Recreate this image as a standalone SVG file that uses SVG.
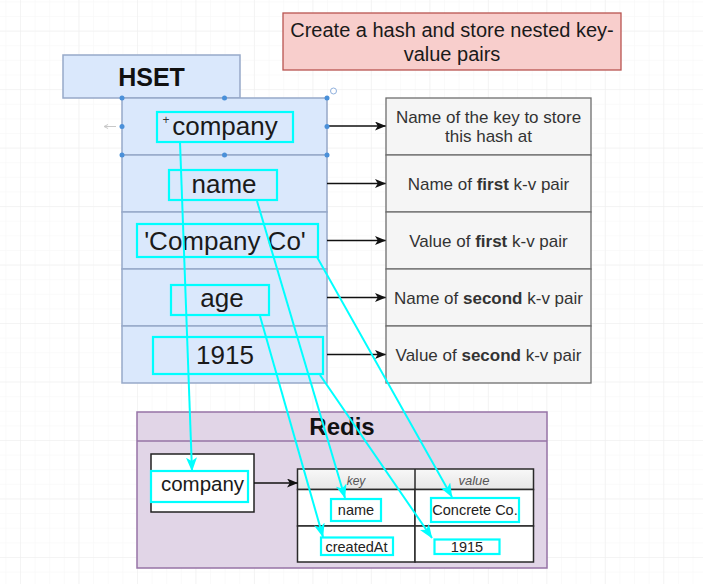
<svg xmlns="http://www.w3.org/2000/svg" width="703" height="584" viewBox="0 0 703 584">
<defs>
<style>
text{font-family:"Liberation Sans",Arial,Helvetica,sans-serif;}
.hrow{fill:#dae8fc;stroke:#97a9c9;stroke-width:1.5;}
.rowtxt{font-size:26px;fill:#1a1a1a;text-anchor:middle;}
.desc{fill:#f5f5f5;stroke:#6e6e6e;stroke-width:1.3;}
.desctxt{font-size:17px;fill:#333;text-anchor:middle;}
.hl{fill:none;stroke:#00ffff;stroke-width:2.2;}
.blk{stroke:#111;stroke-width:1.3;fill:none;marker-end:url(#ab);}
.cy{stroke:#00ffff;stroke-width:2;fill:none;marker-end:url(#ac);}
.cell{fill:#fff;stroke:#2a2a2a;stroke-width:1.5;}
.celltxt{font-size:14.5px;fill:#222;text-anchor:middle;}
.hdl{fill:#4a90d9;}
</style>
<marker id="ab" viewBox="0 0 11 9" refX="10.5" refY="4.5" markerWidth="11" markerHeight="9" markerUnits="userSpaceOnUse" orient="auto">
<path d="M0,0 L11,4.5 L0,9 L2.8,4.5 z" fill="#111"/>
</marker>
<marker id="ac" viewBox="0 0 14 11" refX="13.5" refY="5.5" markerWidth="14" markerHeight="11" markerUnits="userSpaceOnUse" orient="auto">
<path d="M0,0 L14,5.5 L0,11 L3.5,5.5 z" fill="#00ffff"/>
</marker>
<pattern id="gminor" x="20" y="440" width="14.62" height="14.62" patternUnits="userSpaceOnUse">
<path d="M0,0 H14.62 M0,0 V14.62" stroke="#f6f6f6" stroke-width="1" fill="none"/>
</pattern>
<pattern id="gmajor" x="20" y="440" width="58.48" height="58.48" patternUnits="userSpaceOnUse">
<path d="M0,0 H58.48 M0,0 V58.48" stroke="#eeeeee" stroke-width="1" fill="none"/>
</pattern>
<linearGradient id="hdrg" x1="0" y1="0" x2="0" y2="1">
<stop offset="0" stop-color="#f8f8f8"/>
<stop offset="1" stop-color="#e6e6e6"/>
</linearGradient>
</defs>
<rect width="703" height="584" fill="#ffffff"/>
<rect width="703" height="584" fill="url(#gminor)"/>
<rect width="703" height="584" fill="url(#gmajor)"/>

<g id="title">
<rect x="283" y="13" width="338" height="57" fill="#f8cecc" stroke="#b85450" stroke-width="1.3"/>
<text x="452" y="37" font-size="20" fill="#1a1a1a" text-anchor="middle">Create a hash and store nested key-</text>
<text x="452" y="61" font-size="20" fill="#1a1a1a" text-anchor="middle">value pairs</text>
</g>

<g id="hset-header">
<rect x="63" y="55" width="177" height="43" class="hrow"/>
<text x="151.5" y="86" font-size="25" font-weight="bold" fill="#111" text-anchor="middle">HSET</text>
</g>

<g id="hset-company">
<rect x="122" y="98" width="205" height="57" class="hrow"/>
<text x="225" y="135" class="rowtxt">company</text>
<text x="166" y="124" font-size="12" fill="#333" text-anchor="middle">+</text>
<rect x="157" y="112" width="136" height="30" class="hl"/>
</g>
<g id="hset-name">
<rect x="122" y="155" width="205" height="57" class="hrow"/>
<text x="224" y="193" class="rowtxt">name</text>
<rect x="169" y="170" width="108" height="30" class="hl"/>
</g>
<g id="hset-companyco">
<rect x="122" y="212" width="205" height="57" class="hrow"/>
<text x="225" y="250" class="rowtxt">'Company Co'</text>
<rect x="137" y="224" width="181" height="33" class="hl"/>
</g>
<g id="hset-age">
<rect x="122" y="269" width="205" height="57" class="hrow"/>
<text x="222" y="307" class="rowtxt">age</text>
<rect x="171" y="285" width="98" height="30" class="hl"/>
</g>
<g id="hset-1915">
<rect x="122" y="326" width="205" height="57" class="hrow"/>
<text x="225" y="364" class="rowtxt">1915</text>
<rect x="153" y="337" width="170" height="37" class="hl"/>
</g>

<g id="desc-key">
<rect x="386" y="98" width="205" height="57" class="desc"/>
<text x="488.5" y="123" class="desctxt">Name of the key to store</text>
<text x="488.5" y="142" class="desctxt">this hash at</text>
</g>
<g id="desc-name1">
<rect x="386" y="155" width="205" height="57" class="desc"/>
<text x="488.5" y="190" class="desctxt">Name of <tspan font-weight="bold">first</tspan> k-v pair</text>
</g>
<g id="desc-value1">
<rect x="386" y="212" width="205" height="57" class="desc"/>
<text x="488.5" y="247" class="desctxt">Value of <tspan font-weight="bold">first</tspan> k-v pair</text>
</g>
<g id="desc-name2">
<rect x="386" y="269" width="205" height="57" class="desc"/>
<text x="488.5" y="304" class="desctxt">Name of <tspan font-weight="bold">second</tspan> k-v pair</text>
</g>
<g id="desc-value2">
<rect x="386" y="326" width="205" height="57" class="desc"/>
<text x="488.5" y="361" class="desctxt">Value of <tspan font-weight="bold">second</tspan> k-v pair</text>
</g>

<g id="redis">
<rect x="137" y="412" width="410" height="156" fill="#e1d5e7" stroke="#9673a6" stroke-width="1.5"/>
<line x1="137" y1="441" x2="547" y2="441" stroke="#9673a6" stroke-width="1.5"/>
<text x="342" y="435" font-size="24" font-weight="bold" fill="#111" text-anchor="middle">Redis</text>
</g>

<g id="redis-company">
<rect x="151" y="454" width="103" height="58" fill="#fff" stroke="#222" stroke-width="1.5"/>
<text x="202.5" y="491" font-size="20.5" fill="#1a1a1a" text-anchor="middle">company</text>
<rect x="151" y="471" width="97" height="31" class="hl"/>
</g>

<g id="kv-table">
<rect x="297.5" y="469" width="236" height="20.5" fill="url(#hdrg)" stroke="#2a2a2a" stroke-width="1.5"/>
<rect x="297.5" y="489.5" width="117.5" height="36.5" class="cell"/>
<rect x="415" y="489.5" width="118.5" height="36.5" class="cell"/>
<rect x="297.5" y="526" width="117.5" height="36" class="cell"/>
<rect x="415" y="526" width="118.5" height="36" class="cell"/>
<line x1="415" y1="469" x2="415" y2="489.5" stroke="#2a2a2a" stroke-width="1.5"/>
<text x="356" y="485" font-size="12" font-style="italic" fill="#555" text-anchor="middle">key</text>
<text x="474" y="485" font-size="13" font-style="italic" fill="#555" text-anchor="middle">value</text>
<text x="356" y="515" class="celltxt">name</text>
<text x="475" y="515" class="celltxt">Concrete Co.</text>
<text x="356.5" y="552" class="celltxt">createdAt</text>
<text x="467" y="552" class="celltxt">1915</text>
<rect x="331" y="499" width="50" height="22" class="hl"/>
<rect x="431" y="498" width="88" height="24" class="hl"/>
<rect x="321" y="537.5" width="72" height="17.5" class="hl"/>
<rect x="434.5" y="539.5" width="65" height="14.5" class="hl"/>
</g>

<g id="connectors">
<line x1="327" y1="126" x2="385.5" y2="126" class="blk"/>
<line x1="327" y1="183.5" x2="385.5" y2="183.5" class="blk"/>
<line x1="327" y1="240.5" x2="385.5" y2="240.5" class="blk"/>
<line x1="327" y1="297.5" x2="385.5" y2="297.5" class="blk"/>
<line x1="327" y1="354.5" x2="385.5" y2="354.5" class="blk"/>
<line x1="254" y1="483" x2="297.5" y2="483" class="blk"/>
<line x1="180" y1="142" x2="192" y2="471" class="cy"/>
<line x1="257" y1="201" x2="345" y2="498" class="cy"/>
<line x1="317" y1="257" x2="452" y2="497" class="cy"/>
<line x1="260" y1="316" x2="323" y2="537" class="cy"/>
<line x1="320" y1="375" x2="432" y2="538" class="cy"/>
</g>

<g id="selection">
<circle cx="122" cy="98" r="2.5" class="hdl"/>
<circle cx="224.5" cy="98" r="2.5" class="hdl"/>
<circle cx="327" cy="98" r="2.5" class="hdl"/>
<circle cx="122" cy="126.5" r="2.5" class="hdl"/>
<circle cx="327" cy="126.5" r="2.5" class="hdl"/>
<circle cx="122" cy="155" r="2.5" class="hdl"/>
<circle cx="224.5" cy="155" r="2.5" class="hdl"/>
<circle cx="327" cy="155" r="2.5" class="hdl"/>
<circle cx="333.5" cy="91" r="3" fill="#fff" stroke="#8fb0dd" stroke-width="1"/>
<path d="M104,126.5 H116 M104,126.5 L108,124.5 M104,126.5 L108,128.5" stroke="#c8c8c8" stroke-width="1" fill="none"/>
</g>
</svg>
